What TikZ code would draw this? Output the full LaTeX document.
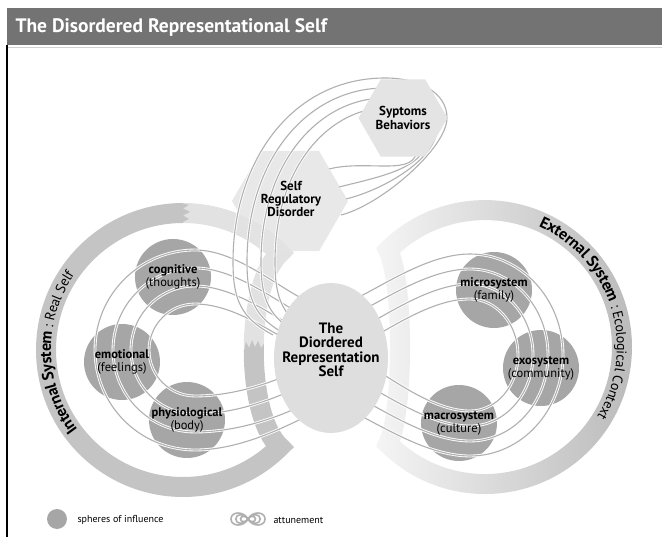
\documentclass[tikz,border=0pt]{standalone}
\usepackage{fontspec}
\setmainfont{PT Sans}
\usetikzlibrary{shapes.geometric,decorations.text,fadings}

\definecolor{bargray}{RGB}{115,115,115}
\definecolor{ringgray}{RGB}{196,196,196}
\definecolor{ringlight}{RGB}{226,226,226}
\definecolor{spheregray}{RGB}{166,166,166}
\definecolor{selfgray}{RGB}{222,222,222}
\definecolor{hexgray}{RGB}{228,228,228}
\definecolor{linegray}{RGB}{176,176,176}
\definecolor{extgray}{RGB}{184,184,184}

\newcommand\labelfont{\fontsize{12.5}{13}\selectfont}
\newcommand\hexfont{\bfseries\fontsize{13}{13.4}\selectfont}
\newcommand\selffont{\bfseries\fontsize{15}{14.5}\selectfont}
\newcommand\ringbold{\bfseries\fontsize{16}{16}\selectfont}
\newcommand\ringplain{\mdseries\fontsize{14}{14}\selectfont}
\newcommand\legendfont{\fontsize{10}{10}\selectfont}

\tikzfading[name=ringfade, left color=transparent!85, right color=transparent!0]

\tikzset{
  ringband/.style={line width=20pt, line join=miter},
  sphere/.style={circle, fill=spheregray, minimum size=76pt, inner sep=0pt},
  spheretext/.style={align=center, font=\labelfont, inner sep=0pt},
  hexbox/.style={regular polygon, regular polygon sides=6, fill=hexgray, inner sep=0pt, align=center, font=\hexfont},
  attune/.style={draw=linegray, line width=1.1pt, preaction={draw=white, line width=2.8pt}}
}

\begin{document}
\begin{tikzpicture}[x=1pt,y=-1pt]
\useasboundingbox (0,0) rectangle (662,537);

\fill[bargray] (7,8) rectangle (662,45);
\draw[gray!35, line width=0.8pt] (8,47) -- (662,47);
\draw[line width=1.5pt] (7,45) -- (7,537);
\node[anchor=west, text=white, font=\bfseries\fontsize{19.5}{19.5}\selectfont] (title) at (12,27) {The Disordered Representational Self};

\draw[ringband, draw=extgray, path fading=ringfade] (388.13,250.13) arc[start angle=225, end angle=495, radius=137] .. controls (404,412) and (404,282) .. cycle;

\draw[ringband, draw=ringlight] (183,213) arc[start angle=270, end angle=315, radius=137] .. controls (262.5,269) and (253.75,309.5) .. (253.75,350);
\draw[ringband, draw=ringgray] (253.75,350) .. controls (253.75,390.5) and (262.5,431) .. (279.87,446.87) arc[start angle=45, end angle=270, radius=137];
\fill[ringgray] (181,203) -- (189,205) -- (183,208.5) -- (190,212) -- (183,215.5) -- (189,219) -- (181,223) -- cycle;
\fill[ringgray] (243.75,352) -- (246,342) -- (249,348) -- (252,340) -- (255,347) -- (258,341) -- (261,348) -- (263.75,344) -- (263.75,352) -- cycle;

\node[hexbox, minimum size=116pt, fill opacity=0.85] (srd) at (290,201) {};

\node[sphere] (cog) at (173,277) {};
\node[sphere] (emo) at (122,362) {};
\node[sphere] (phys) at (187,420) {};
\node[sphere] (micro) at (494,290) {};
\node[sphere] (exo) at (541,368) {};
\node[sphere] (macro) at (459,423) {};

\foreach \r/\yu/\yl in {100/297/420, 82/313/407, 64/330/387, 46/347/370}
  \draw[attune] (305,\yu+3) .. controls (275,\yu-12) and (235,350-\r) .. (195,350-\r) arc[start angle=270, end angle=90, radius=\r] .. controls (235,350+\r) and (275,\yl+12) .. (305,\yl-3);

\foreach \r/\yu/\yl in {93/295/417, 78/310/400, 63/327/383, 48/343/362}
  \draw[attune] (357,\yu+3) .. controls (387,\yu-12) and (430,347-\r) .. (470,347-\r) arc[start angle=270, end angle=450, x radius=\r, y radius=\r+8] .. controls (430,363+\r) and (387,\yl+12) .. (357,\yl-3);

\foreach \xk/\yt/\xr/\ex/\ey in {233/78/447/341/215, 247/88/437/346/199, 261/98/427/339/187, 275/108/417/329/169}
  \draw[attune] (\xk+40,335) .. controls (\xk+8,318) and (\xk,300) .. (\xk,262) .. controls (\xk,160) and (\xk+60,\yt) .. (385,\yt) .. controls (420,\yt) and (\xr,\yt+15) .. (\xr,\yt+40) .. controls (\xr,\yt+70) and (\ex+40,\ey-10) .. (\ex,\ey);

\node[hexbox, minimum size=80pt] (sympt) at (403,118) {Syptoms\\Behaviors};
\node[align=center, font=\hexfont] (srdtext) at (291,199) {Self\\Regulatory\\Disorder};

\node[ellipse, fill=selfgray, minimum width=114pt, minimum height=150pt, inner sep=0pt] (self) at (331,358) {};
\node[align=center, font=\selffont] (selftext) at (331,350) {The\\Diordered\\Representation\\Self};

\node[spheretext] (cogtext) at (cog) {\textbf{cognitive}\\(thoughts)};
\node[spheretext] (emotext) at (emo) {\textbf{emotional}\\(feelings)};
\node[spheretext] (physt) at (phys) {\textbf{physiological}\\(body)};
\node[spheretext] (microt) at (micro) {\textbf{microsystem}\\(family)};
\node[spheretext] (exot) at (exo) {\textbf{exosystem}\\(community)};
\node[spheretext] (macrot) at (macro) {\textbf{macrosystem}\\(culture)};

\path[decorate, decoration={text along path, raise=-5pt, text={|\ringbold|Internal System|\ringplain| : Real Self}}] (73.6,432.4) arc[start angle=143, end angle=235, radius=137];
\path[decorate, decoration={text along path, raise=-5pt, text={|\ringbold|External System|\ringplain| : Ecological Context}}] (540.7,221.8) arc[start angle=294, end angle=410, radius=137];

\fill[spheregray] (57,519) circle (10);
\node[anchor=west, font=\legendfont] (spheretxt) at (74,520) {spheres of influence};
\foreach \s in {1,0.72,0.44}
  \draw[draw=linegray, line width=1.6pt] (248,519) .. controls (248+4*\s,519-8*\s) and (248+17*\s,519-8*\s) .. (248+17*\s,519) .. controls (248+17*\s,519+8*\s) and (248+4*\s,519+8*\s) .. (248,519) .. controls (248-4*\s,519-8*\s) and (248-17*\s,519-8*\s) .. (248-17*\s,519) .. controls (248-17*\s,519+8*\s) and (248-4*\s,519+8*\s) .. (248,519);
\node[anchor=west, font=\legendfont] (attunetxt) at (270,520) {attunement};
\end{tikzpicture}
\end{document}
